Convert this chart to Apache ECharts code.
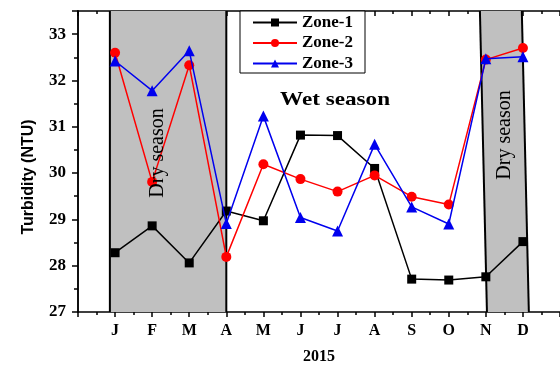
<!DOCTYPE html>
<html>
<head>
<meta charset="utf-8">
<script src="https://cdn.jsdelivr.net/npm/echarts@6/dist/echarts.min.js"></script>
<style>
  html, body { margin: 0; padding: 0; background: #fff; }
  #chart { width: 560px; height: 365px; }
</style>
</head>
<body>
<div id="chart"></div>
<script>
// Monthly turbidity (NTU), 2015
const months = ['J', 'F', 'M', 'A', 'M', 'J', 'J', 'A', 'S', 'O', 'N', 'D'];
const zone1 = [28.28, 28.86, 28.06, 29.18, 28.97, 30.82, 30.81, 30.10, 27.71, 27.69, 27.76, 28.52];
const zone2 = [32.60, 29.81, 32.33, 28.19, 30.19, 29.87, 29.60, 29.95, 29.49, 29.32, 32.45, 32.70];
const zone3 = [32.42, 31.78, 32.64, 28.91, 31.23, 29.04, 28.75, 30.62, 29.27, 28.90, 32.47, 32.51];
const seriesNames = ['Zone-1', 'Zone-2', 'Zone-3'];
// Dry-season bands in month units (1 = Jan): [top-left, top-right, bottom-left, bottom-right]
const dryBands = [
  [0.86, 4.0, 0.86, 4.0],
  [10.84, 11.97, 11.03, 12.16]
];
const yMin = 27, yMax = 33.5;
const xMin = 0, xMax = 13;

const serif = 'Liberation Serif';
const toPairs = arr => arr.map((v, i) => [i + 1, v]);

const chart = echarts.init(document.getElementById('chart'));

const axisLineStyle = { color: '#000', width: 1.5 };

const option = {
  animation: false,
  backgroundColor: '#fff',
  grid: { left: 78, right: 0, top: 11, bottom: 53, containLabel: false, outerBoundsMode: 'none' },
  legend: {
    orient: 'vertical',
    left: 240,
    top: 11,
    padding: [3, 12, 1, 12],
    itemGap: 3.5,
    itemWidth: 44,
    itemHeight: 10,
    borderColor: '#000',
    borderWidth: 1,
    backgroundColor: '#fff',
    data: seriesNames,
    textStyle: { fontFamily: serif, fontWeight: 'bold', fontSize: 17, color: '#000', lineHeight: 16 }
  },
  xAxis: [{
    type: 'value', min: xMin, max: xMax, interval: 1,
    name: '2015', nameLocation: 'middle', nameGap: 37,
    nameTextStyle: { fontFamily: serif, fontWeight: 'bold', fontSize: 16, color: '#000' },
    axisLine: { lineStyle: axisLineStyle },
    axisTick: { inside: false, length: 5, lineStyle: { color: '#000', width: 1.5 } },
    minorTick: { show: true, splitNumber: 2, length: 3, lineStyle: { color: '#000', width: 1.5 } },
    splitLine: { show: false },
    axisLabel: {
      margin: 11,
      fontFamily: serif, fontWeight: 'bold', fontSize: 16, color: '#000',
      showMinLabel: false, showMaxLabel: false,
      formatter: v => (v >= 1 && v <= 12 ? months[v - 1] : '')
    }
  }, {
    type: 'value', position: 'top', min: xMin, max: xMax, interval: 1,
    axisLine: { lineStyle: axisLineStyle },
    axisTick: { inside: true, length: 5, lineStyle: { color: '#000', width: 1.5 } },
    minorTick: { show: true, splitNumber: 2, length: 3, lineStyle: { color: '#000', width: 1.5 } },
    splitLine: { show: false },
    axisLabel: { show: false }
  }],
  yAxis: [{
    type: 'value', min: yMin, max: yMax, interval: 1,
    axisLine: { show: true, lineStyle: axisLineStyle },
    axisTick: { show: true, inside: false, length: 6, lineStyle: { color: '#000', width: 1.5 } },
    minorTick: { show: true, splitNumber: 2, length: 4, lineStyle: { color: '#000', width: 1.5 } },
    splitLine: { show: false },
    axisLabel: {
      margin: 12,
      fontFamily: serif, fontWeight: 'bold', fontSize: 17, color: '#000',
      formatter: v => (Number.isInteger(v) ? String(v) : '')
    }
  }, {
    type: 'value', position: 'right', min: yMin, max: yMax, interval: 1,
    axisLine: { show: true, lineStyle: axisLineStyle },
    axisTick: { show: true, inside: true, length: 6, lineStyle: { color: '#000', width: 1.5 } },
    minorTick: { show: true, splitNumber: 2, length: 4, lineStyle: { color: '#000', width: 1.5 } },
    splitLine: { show: false },
    axisLabel: { show: false }
  }],
  graphic: [
    {
      type: 'text', x: 280, y: 100, scaleX: 1.22, z: 10,
      style: { text: 'Wet season', font: 'bold 19px "Liberation Serif"', fill: '#000', verticalAlign: 'middle' }
    },
    {
      type: 'text', x: 158, y: 153, rotation: Math.PI / 2, z: 10,
      style: { text: 'Dry season', font: '20px "Liberation Serif"', fill: '#000', align: 'center', verticalAlign: 'middle' }
    },
    {
      type: 'text', x: 505, y: 135, rotation: Math.PI / 2, z: 10,
      style: { text: 'Dry season', font: '20px "Liberation Serif"', fill: '#000', align: 'center', verticalAlign: 'middle' }
    },
    {
      type: 'text', x: 29, y: 177, rotation: Math.PI / 2, z: 10,
      style: { text: 'Turbidity (NTU)', font: 'bold 16px "Liberation Sans"', fill: '#000', align: 'center', verticalAlign: 'middle' }
    }
  ],
  series: [
    {
      type: 'custom',
      name: 'dry',
      silent: true,
      clip: true,
      z: 1,
      encode: { x: [0, 1, 2, 3] },
      data: dryBands,
      renderItem: (params, api) => {
        const tl = api.coord([api.value(0), yMax]);
        const tr = api.coord([api.value(1), yMax]);
        const bl = api.coord([api.value(2), yMin]);
        const br = api.coord([api.value(3), yMin]);
        return {
          type: 'group',
          children: [
            { type: 'polygon', shape: { points: [tl, tr, br, bl] }, style: { fill: '#c0c0c0' } },
            { type: 'line', shape: { x1: tl[0], y1: tl[1], x2: bl[0], y2: bl[1] }, style: { stroke: '#000', lineWidth: 2 } },
            { type: 'line', shape: { x1: tr[0], y1: tr[1], x2: br[0], y2: br[1] }, style: { stroke: '#000', lineWidth: 2 } }
          ]
        };
      }
    },
    {
      name: seriesNames[0], type: 'line', data: toPairs(zone1), z: 3,
      symbol: 'rect', symbolSize: 9, color: '#000',
      lineStyle: { width: 1.5, color: '#000' }, itemStyle: { color: '#000' }
    },
    {
      name: seriesNames[1], type: 'line', data: toPairs(zone2), z: 4,
      symbol: 'circle', symbolSize: 10, color: '#f00',
      lineStyle: { width: 1.5, color: '#f00' }, itemStyle: { color: '#f00' }
    },
    {
      name: seriesNames[2], type: 'line', data: toPairs(zone3), z: 5,
      symbol: 'triangle', symbolSize: 11, color: '#0000ee',
      lineStyle: { width: 1.5, color: '#0000ee' }, itemStyle: { color: '#0000ee' }
    }
  ]
};

chart.setOption(option);
</script>
</body>
</html>
